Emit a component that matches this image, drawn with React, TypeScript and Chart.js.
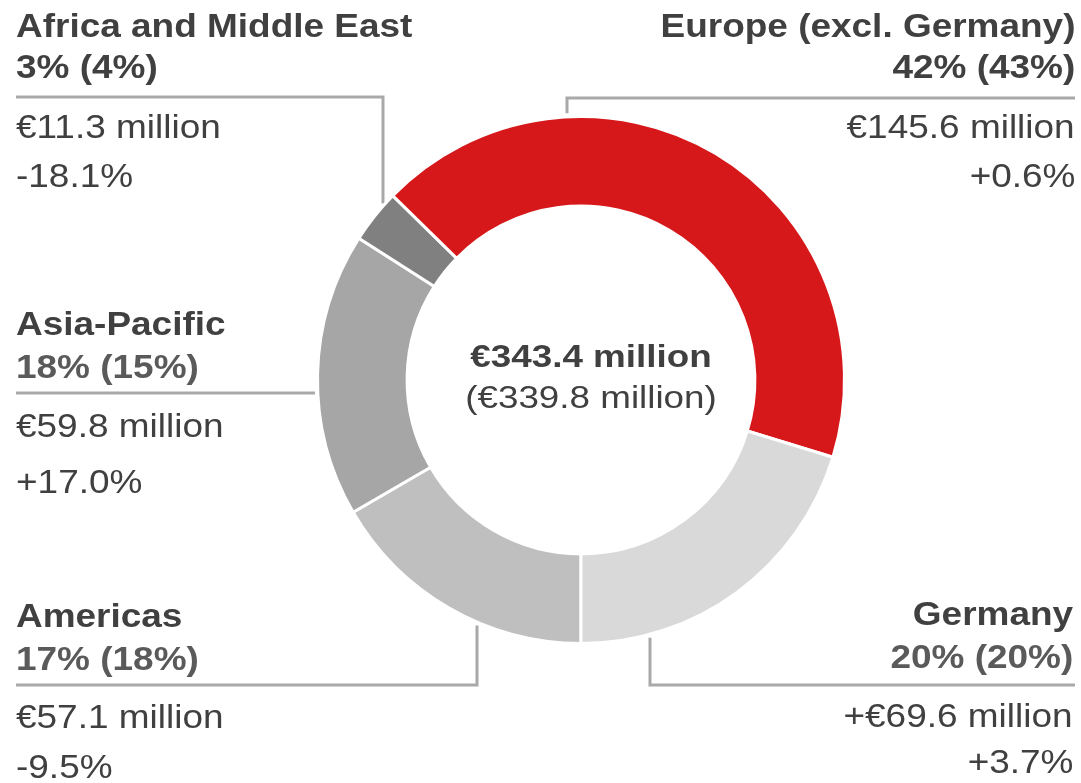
import React, { useEffect, useRef } from "react";
import { Chart, registerables } from "chart.js";

Chart.register(...registerables);

// ---- Data ----
const regions = ["Americas", "Asia-Pacific", "Africa and Middle East", "Europe (excl. Germany)", "Germany"];
const revenue = [57.1, 59.8, 11.3, 145.6, 69.6]; // € million
const sharePct = [17, 18, 3, 42, 20];
const sharePrevPct = [18, 15, 4, 43, 20];
const changePct = [-9.5, 17.0, -18.1, 0.6, 3.7];
const amountPrefix = ["", "", "", "", "+"];
const colors = ["#bfbfbf", "#a6a6a6", "#808080", "#d6181b", "#d9d9d9"];
const totalNow = 343.4;
const totalPrev = 339.8;

// ---- Layout (positions only) ----
const W = 1081;
const H = 783;
const FONT = '"Liberation Sans", Arial, Helvetica, sans-serif';
const SIDE_SIZE = 33;
const SIDE_SCALE = 1.12;
const CENTER_SIZE = 32;
const CENTER_SCALE = 1.15;
const TEXT_DARK = "#404040";
const LINE_COLOR = "#a9a9a9";

type Align = "left" | "right" | "center";
interface LabelLayout {
  x: number;
  align: Align;
  baselines: number[];
  pctColor: string;
  leader: { y: number; xStart: number; xCorner: number; vertical: "up" | "down" | "none" };
}

// index matches regions
const labelLayout: LabelLayout[] = [
  { x: 16, align: "left", baselines: [627, 670, 728, 778], pctColor: "#5a5a5a", leader: { y: 685, xStart: 16, xCorner: 477, vertical: "up" } },
  { x: 16, align: "left", baselines: [335, 378, 437, 493], pctColor: "#5a5a5a", leader: { y: 393, xStart: 16, xCorner: 315, vertical: "none" } },
  { x: 16, align: "left", baselines: [37, 78, 138, 187], pctColor: TEXT_DARK, leader: { y: 97, xStart: 16, xCorner: 383, vertical: "down" } },
  { x: 1075, align: "right", baselines: [37, 78, 138, 187], pctColor: TEXT_DARK, leader: { y: 98, xStart: 1075, xCorner: 567, vertical: "down" } },
  { x: 1073, align: "right", baselines: [625, 668, 727, 773], pctColor: "#5a5a5a", leader: { y: 685, xStart: 1075, xCorner: 650, vertical: "up" } },
];

const fmtChange = (v: number) => (v > 0 ? "+" : v < 0 ? "-" : "") + Math.abs(v).toFixed(1) + "%";

function TextLine(props: {
  x: number;
  baseline: number;
  align: Align;
  size: number;
  bold?: boolean;
  color: string;
  scale: number;
  text: string;
}) {
  const { x, baseline, align, size, bold, color, scale, text } = props;
  const top = baseline - 0.8465 * size;
  const style: React.CSSProperties = {
    position: "absolute",
    top,
    whiteSpace: "nowrap",
    fontSize: size,
    lineHeight: `${size}px`,
    fontWeight: bold ? 700 : 400,
    color,
    fontFamily: FONT,
  };
  if (align === "left") {
    style.left = x;
    style.transformOrigin = "left center";
    style.transform = `scaleX(${scale})`;
  } else if (align === "right") {
    style.right = W - x;
    style.transformOrigin = "right center";
    style.transform = `scaleX(${scale})`;
  } else {
    style.left = x;
    style.transform = `translateX(-50%) scaleX(${scale})`;
  }
  return <div style={style}>{text}</div>;
}

const leaderPlugin = {
  id: "leaders",
  beforeDatasetsDraw(chart: any) {
    const meta = chart.getDatasetMeta(0);
    const arc = meta.data[0];
    if (!arc) return;
    const { x: cx, y: cy, outerRadius } = arc.getProps(["x", "y", "outerRadius"], true);
    const bw = 3;
    const visibleR = outerRadius - bw / 2;
    const gap = 5;
    const ctx = chart.ctx;
    ctx.save();
    ctx.strokeStyle = LINE_COLOR;
    ctx.lineWidth = 3;
    ctx.lineCap = "butt";
    ctx.lineJoin = "miter";
    labelLayout.forEach((l) => {
      const { y, xStart, xCorner, vertical } = l.leader;
      ctx.beginPath();
      ctx.moveTo(xStart, y);
      ctx.lineTo(xCorner, y);
      if (vertical !== "none") {
        const dx = xCorner - cx;
        const dy = Math.sqrt(Math.max(visibleR * visibleR - dx * dx, 0));
        const yEnd = vertical === "down" ? cy - dy - gap : cy + dy + gap;
        ctx.lineTo(xCorner, yEnd);
      }
      ctx.stroke();
    });
    ctx.restore();
  },
};

export default function App() {
  const canvasRef = useRef<HTMLCanvasElement | null>(null);

  useEffect(() => {
    if (!canvasRef.current) return;
    const chart = new Chart(canvasRef.current, {
      type: "doughnut",
      data: {
        labels: regions,
        datasets: [
          {
            data: revenue,
            backgroundColor: colors,
            borderColor: "#ffffff",
            borderWidth: 3,
            hoverOffset: 0,
            offset: 0,
          },
        ],
      },
      options: {
        animation: false,
        responsive: false,
        rotation: 180,
        cutout: "66%",
        events: [],
        layout: { padding: { left: 316, right: 235, top: 115, bottom: 138 } },
        plugins: {
          legend: { display: false },
          tooltip: { enabled: false },
        },
      },
      plugins: [leaderPlugin as any],
    });
    return () => chart.destroy();
  }, []);

  return (
    <div style={{ position: "absolute", left: 0, top: 0, width: W, height: H, background: "#ffffff", overflow: "hidden" }}>
      <canvas ref={canvasRef} width={W} height={H} style={{ position: "absolute", left: 0, top: 0, width: W, height: H }} />
      {regions.map((name, i) => {
        const l = labelLayout[i];
        const lines = [
          { text: name, bold: true, color: TEXT_DARK },
          { text: `${sharePct[i]}% (${sharePrevPct[i]}%)`, bold: true, color: l.pctColor },
          { text: `${amountPrefix[i]}€${revenue[i].toFixed(1)} million`, bold: false, color: TEXT_DARK },
          { text: fmtChange(changePct[i]), bold: false, color: TEXT_DARK },
        ];
        return lines.map((ln, j) => (
          <TextLine
            key={`${i}-${j}`}
            x={l.x}
            baseline={l.baselines[j]}
            align={l.align}
            size={SIDE_SIZE}
            bold={ln.bold}
            color={ln.color}
            scale={SIDE_SCALE}
            text={ln.text}
          />
        ));
      })}
      <TextLine x={591} baseline={367} align="center" size={CENTER_SIZE} bold color={TEXT_DARK} scale={CENTER_SCALE} text={`€${totalNow.toFixed(1)} million`} />
      <TextLine x={591} baseline={408} align="center" size={CENTER_SIZE} color={TEXT_DARK} scale={CENTER_SCALE} text={`(€${totalPrev.toFixed(1)} million)`} />
    </div>
  );
}
